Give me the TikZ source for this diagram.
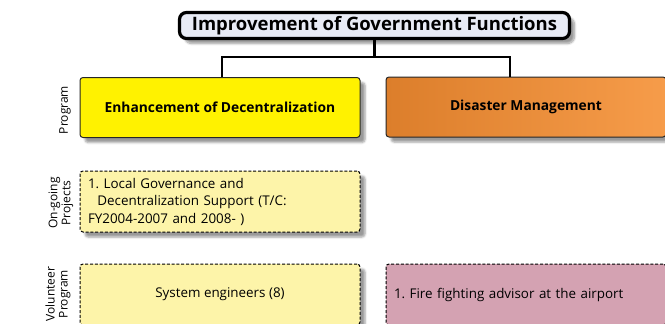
\documentclass[tikz,border=0pt]{standalone}
\usepackage{fontspec}
\setmainfont{Open Sans}
\frenchspacing
\usetikzlibrary{positioning,calc,shadows.blur}
\definecolor{titlefill}{HTML}{E8EBF5}
\definecolor{progyellow}{HTML}{FFF200}
\definecolor{orangeleft}{HTML}{DC7E2B}
\definecolor{orangeright}{HTML}{F69C4A}
\definecolor{paleyellow}{HTML}{FDF4A9}
\definecolor{pinkfill}{HTML}{D4A2B2}
\tikzset{
	titlebox/.style={draw, line width=3.2pt, rounded corners=7pt, fill=titlefill,
			minimum width=390, minimum height=26,
			font=\bfseries\fontsize{18.5}{20}\selectfont,
			blur shadow={shadow xshift=5pt, shadow yshift=-5pt, shadow blur steps=8}},
	progbox/.style={draw=black!85, line width=1pt, rounded corners=3pt,
			minimum width=280, minimum height=60,
			font=\bfseries\fontsize{13.8}{15}\selectfont,
			blur shadow={shadow xshift=5pt, shadow yshift=-5pt}},
	itembox/.style={draw=black, dash pattern=on 3pt off 1.8pt, line width=1pt, rounded corners=3pt,
			minimum width=280, minimum height=61,
			font=\fontsize{13.4}{17.5}\selectfont,
			blur shadow={shadow xshift=5pt, shadow yshift=-5pt}},
	rowlabel/.style={rotate=90, align=center, font=\fontsize{12}{13}\selectfont}
}

\begin{document}
\begin{tikzpicture}[x=1pt, y=-1pt]
	\clip (0,0) rectangle (665,324);
	\useasboundingbox (0,0) rectangle (665,324);

	% top of the tree
	\node[titlebox] (goal) at (374.5,25.5) {Improvement of Government Functions};

	% programs
	\node[progbox, fill=progyellow] (decentral) at (220,107.5) {Enhancement of Decentralization};
	\node[progbox, left color=orangeleft, right color=orangeright] (disaster) at (526,107) {Disaster Management};

	\draw[line width=2.5pt] (goal.south) -- ++(0,17) coordinate (fork)
		-| ([xshift=2pt]decentral.north);
	\draw[line width=2.5pt] (fork) -| ([xshift=-16pt]disaster.north);

	% on-going projects
	\node[itembox, fill=paleyellow, align=left, text width=264] (localgov) at (220,201.5)
		{1. Local Governance and\\
		 \hspace*{0.7em}Decentralization Support (T/C:\\
		 FY2004-2007 and 2008- )};

	% volunteers
	\node[itembox, fill=paleyellow] (syseng) at (220,294.5) {System engineers (8)};
	\node[itembox, fill=pinkfill, text width=264, align=left] (firefight) at (526,294.5)
		{1. Fire fighting advisor at the airport};

	% row labels
	\node[rowlabel] (lprog) at (65,110) {Program};
	\node[rowlabel] (lproj) at (61,203) {On-going\\Projects};
	\node[rowlabel] (lvol) at (58,294) {Volunteer\\Program};
\end{tikzpicture}
\end{document}
